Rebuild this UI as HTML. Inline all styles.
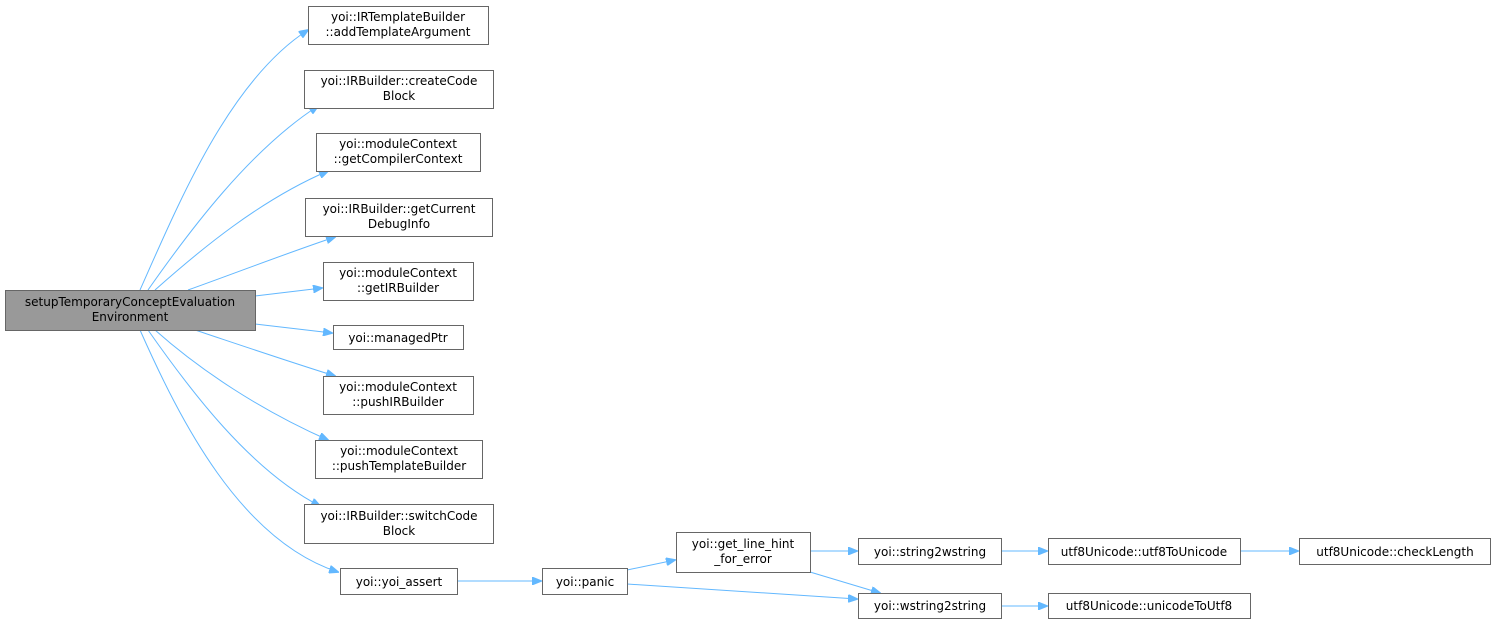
<!DOCTYPE html>
<html><head><meta charset="utf-8"><style>
html,body{margin:0;padding:0;background:#fff;}
svg text{font-family:"DejaVu Sans","Liberation Sans",sans-serif;font-size:12px;fill:#000;text-anchor:middle;}
.n{fill:#fff;stroke:#666;stroke-width:1;}
.e{fill:none;stroke:#63b8ff;stroke-width:1;}
.a{fill:#63b8ff;stroke:#63b8ff;}
</style></head><body>
<svg width="1496" height="623" viewBox="0 0 1496 623" xmlns="http://www.w3.org/2000/svg">
<defs><marker id="m" markerWidth="10" markerHeight="8" refX="9" refY="4" orient="auto" markerUnits="userSpaceOnUse"><path d="M0,0 L10,4 L0,8 z" class="a"/></marker></defs>
<!-- edges -->
<g class="e" marker-end="url(#m)">
<path d="M140,290 C180,200 230,80 308,30" marker-end="url(#m)"/>
<path d="M148,290 C190,230 250,150 318,106" marker-end="url(#m)"/>
<path d="M155,290 C200,250 260,200 328,171" marker-end="url(#m)"/>
<path d="M188,290 C230,275 290,252 335,237" marker-end="url(#m)"/>
<path d="M255,296 L322,288" marker-end="url(#m)"/>
<path d="M255,324 L332,333" marker-end="url(#m)"/>
<path d="M195,330 C240,345 290,362 335,376" marker-end="url(#m)"/>
<path d="M155,330 C200,370 260,410 328,440" marker-end="url(#m)"/>
<path d="M148,330 C190,390 250,470 320,506" marker-end="url(#m)"/>
<path d="M140,330 C180,420 240,540 338,572" marker-end="url(#m)"/>
<path d="M457,581 L541,581" marker-end="url(#m)"/>
<path d="M627,570 L675,560" marker-end="url(#m)"/>
<path d="M627,584 L857,599" marker-end="url(#m)"/>
<path d="M810,551 L857,551" marker-end="url(#m)"/>
<path d="M810,572 L880,593" marker-end="url(#m)"/>
<path d="M1001,551 L1047,551" marker-end="url(#m)"/>
<path d="M1001,606 L1047,606" marker-end="url(#m)"/>
<path d="M1240,551 L1298,551" marker-end="url(#m)"/>
</g>
<!-- main -->
<rect x="5.5" y="290.5" width="250" height="40" fill="#999" stroke="#666"/>
<text x="130" y="306">setupTemporaryConceptEvaluation</text>
<text x="130" y="321">Environment</text>
<rect class="n" x="308.5" y="6.5" width="180" height="38"/><text x="398" y="21">yoi::IRTemplateBuilder</text><text x="398" y="36">::addTemplateArgument</text>
<rect class="n" x="304.5" y="70.5" width="189" height="38"/><text x="399" y="85">yoi::IRBuilder::createCode</text><text x="399" y="100">Block</text>
<rect class="n" x="316.5" y="133.5" width="164" height="38"/><text x="398" y="148">yoi::moduleContext</text><text x="398" y="163">::getCompilerContext</text>
<rect class="n" x="305.5" y="198.5" width="187" height="38"/><text x="399" y="213">yoi::IRBuilder::getCurrent</text><text x="399" y="228">DebugInfo</text>
<rect class="n" x="323.5" y="262.5" width="150" height="38"/><text x="398" y="277">yoi::moduleContext</text><text x="398" y="292">::getIRBuilder</text>
<rect class="n" x="333.5" y="325.5" width="130" height="24"/><text x="398" y="342">yoi::managedPtr</text>
<rect class="n" x="323.5" y="376.5" width="150" height="38"/><text x="398" y="391">yoi::moduleContext</text><text x="398" y="406">::pushIRBuilder</text>
<rect class="n" x="315.5" y="440.5" width="167" height="38"/><text x="399" y="455">yoi::moduleContext</text><text x="399" y="470">::pushTemplateBuilder</text>
<rect class="n" x="304.5" y="504.5" width="189" height="39"/><text x="399" y="520">yoi::IRBuilder::switchCode</text><text x="399" y="535">Block</text>
<rect class="n" x="340.5" y="568.5" width="117" height="26"/><text x="399" y="586">yoi::yoi_assert</text>
<rect class="n" x="542.5" y="568.5" width="85" height="26"/><text x="585" y="586">yoi::panic</text>
<rect class="n" x="676.5" y="532.5" width="134" height="40"/><text x="743" y="548">yoi::get_line_hint</text><text x="743" y="563">_for_error</text>
<rect class="n" x="858.5" y="538.5" width="143" height="26"/><text x="930" y="556">yoi::string2wstring</text>
<rect class="n" x="858.5" y="593.5" width="143" height="25"/><text x="930" y="610">yoi::wstring2string</text>
<rect class="n" x="1048.5" y="538.5" width="192" height="26"/><text x="1144" y="556">utf8Unicode::utf8ToUnicode</text>
<rect class="n" x="1048.5" y="593.5" width="202" height="25"/><text x="1149" y="610">utf8Unicode::unicodeToUtf8</text>
<rect class="n" x="1299.5" y="538.5" width="191" height="26"/><text x="1395" y="556">utf8Unicode::checkLength</text>
</svg>
</body></html>
